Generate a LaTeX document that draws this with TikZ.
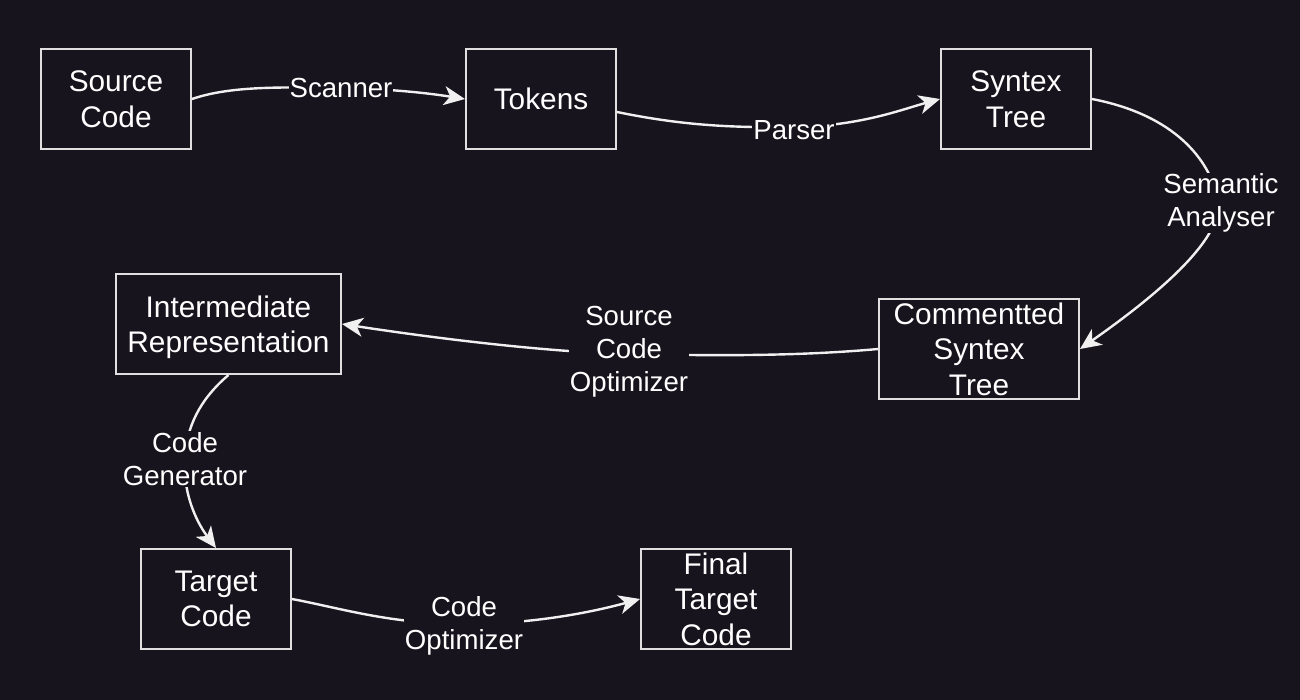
\documentclass[tikz,border=0pt]{standalone}
\usepackage{fontspec}
\setmainfont{Liberation Sans}
\usetikzlibrary{arrows.meta}
\definecolor{bgc}{HTML}{18141D}
\definecolor{boxline}{HTML}{E0E0E0}
\definecolor{edgec}{HTML}{F0F0F0}
\begin{document}
\begin{tikzpicture}[x=1pt,y=-1pt,
  stepbox/.style={draw=boxline, line width=2pt, minimum width=150pt, minimum height=100pt,
    text=white, align=center, font=\fontsize{29.8}{35.5}\selectfont, inner sep=0pt},
  lbl/.style={fill=bgc, text=white, align=center, font=\fontsize{27.6}{33}\selectfont, inner sep=1pt},
  conn/.style={draw=edgec, line width=2.4pt, -{Stealth[length=21pt,width=19pt,inset=6pt]}}]
\fill[bgc] (0,0) rectangle (1300,700);
\useasboundingbox (0,0) rectangle (1300,700);
% boxes
\node[stepbox] (src) at (116,99) {Source\\Code};
\node[stepbox] (tok) at (541,99) {Tokens};
\node[stepbox] (syn) at (1016,99) {Syntex\\Tree};
\node[stepbox, minimum width=200pt] (com) at (979,349) {Commentted\\Syntex\\Tree};
\node[stepbox, minimum width=225pt] (ir) at (228.5,324) {Intermediate\\\smash{Representation}};
\node[stepbox] (tgt) at (216,599) {Target\\Code};
\node[stepbox] (fin) at (716,599) {Final\\Target\\Code};
% connectors
\draw[conn] (src.east) .. controls (230,86) and (280,87) .. (341,88) .. controls (400,89) and (440,95) .. (tok.west);
\draw[conn] ([yshift=-13pt]tok.east) .. controls (680,125) and (730,128) .. (794,127) .. controls (860,126) and (900,110) .. (syn.west);
\draw[conn] (syn.east) .. controls (1175,115) and (1210,160) .. (1218,200) .. controls (1225,240) and (1150,300) .. (com.east);
\draw[conn] (com.west) .. controls (800,356) and (720,356) .. (629,354) .. controls (540,352) and (420,336) .. (ir.east);
\draw[conn] (ir.south) .. controls (205,395) and (188,420) .. (185,455) .. controls (182,490) and (195,520) .. (tgt.north);
\draw[conn] (tgt.east) .. controls (340,608) and (390,624) .. (464,624) .. controls (540,624) and (600,610) .. (fin.west);
% labels
\node[lbl] (l1) at (341,88) {Scanner};
\node[lbl] (l2) at (794,130) {Parser};
\node[lbl] (l3) at (1221,203) {Semantic\\Analyser};
\node[lbl] (l4) at (629,352) {Source\\Code\\Optimizer};
\node[lbl] (l5) at (185,459) {Code\\Generator};
\node[lbl] (l6) at (464,626) {Code\\Optimizer};
\end{tikzpicture}
\end{document}
